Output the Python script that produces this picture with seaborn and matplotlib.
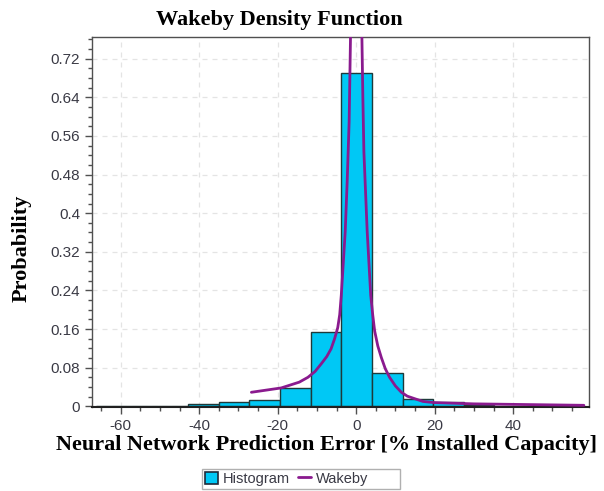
import matplotlib
matplotlib.use("Agg")
import matplotlib.pyplot as plt
import numpy as np
import pandas as pd
import seaborn as sns
from matplotlib.ticker import MultipleLocator, FixedLocator
from matplotlib.patches import Patch, Rectangle
from matplotlib.lines import Line2D

# ---------------- data ----------------
bin_edges = [-66.2, -58.4, -50.6, -42.8, -35.0, -27.2, -19.4, -11.6, -3.8,
             4.0, 11.8, 19.6, 27.4, 35.2, 43.0]
bin_heights = [0.0006, 0.0006, 0.0008, 0.004, 0.008, 0.012, 0.038, 0.154,
               0.690, 0.069, 0.016, 0.009, 0.002, 0.001]

wakeby_x = [-26.7, -19.1, -14.5, -12.3, -10.5, -8.9, -7.5, -6.4, -5.5, -4.7,
            -4.2, -3.8, -2.8, -2.3, -1.8, -1.45, -1.2, 0.0, 1.2, 1.45, 1.7,
            1.96, 2.8, 3.7, 4.2, 4.7, 5.5, 6.4, 7.4, 8.5, 10.0, 11.5, 13.0,
            14.8, 17.0, 19.9, 30.0, 39.4, 58.0]
wakeby_y = [0.029, 0.038, 0.050, 0.060, 0.072, 0.088, 0.103, 0.119, 0.140,
            0.163, 0.190, 0.230, 0.362, 0.465, 0.589, 0.765, 0.900, 2.500,
            0.900, 0.765, 0.637, 0.527, 0.362, 0.230, 0.190, 0.156, 0.125,
            0.101, 0.078, 0.060, 0.042, 0.029, 0.021, 0.016, 0.010, 0.0076,
            0.005, 0.004, 0.002]

x_ticks = [-60, -40, -20, 0, 20, 40]
y_ticks = [0, 0.08, 0.16, 0.24, 0.32, 0.40, 0.48, 0.56, 0.64, 0.72]
y_tick_labels = ["0", "0.08", "0.16", "0.24", "0.32", "0.4", "0.48", "0.56",
                 "0.64", "0.72"]

title_text = "Wakeby Density Function"
x_label = "Neural Network Prediction Error [% Installed Capacity]"
y_label = "Probability"
legend_labels = ["Histogram", "Wakeby"]

# ---------------- styling ----------------
sns.set_style("white")
plt.rcParams["font.family"] = ["Liberation Sans", "DejaVu Sans"]
plt.rcParams["axes.unicode_minus"] = False

bar_color = "#00C8F5"
bar_edge = "#1E3A3A"
line_color = "#8A1A8E"
tick_color = "#3A3A45"
spine_color = "#505050"

fig = plt.figure(figsize=(6.04, 4.91), dpi=100)
ax = fig.add_axes([92 / 604, 1 - 407 / 491, (589 - 92) / 604, (407 - 37) / 491])

edges = np.array(bin_edges)
centers = (edges[:-1] + edges[1:]) / 2
hist_df = pd.DataFrame({"x": centers, "w": bin_heights})
sns.histplot(data=hist_df, x="x", weights="w", bins=bin_edges, stat="count",
             color=bar_color, edgecolor=bar_edge, linewidth=1.0, alpha=1.0,
             ax=ax, zorder=2)

line_df = pd.DataFrame({"x": wakeby_x, "y": wakeby_y})
sns.lineplot(data=line_df, x="x", y="y", color=line_color, linewidth=2.0,
             ax=ax, sort=False, zorder=3)

ax.set_xlim(-67.3, 59.3)
ax.set_ylim(-0.0015, 0.765)

ax.xaxis.set_major_locator(FixedLocator(x_ticks))
ax.xaxis.set_minor_locator(MultipleLocator(5))
ax.set_yticks(y_ticks)
ax.set_yticklabels(y_tick_labels)
ax.yaxis.set_minor_locator(MultipleLocator(0.02))

ax.tick_params(axis="both", which="major", direction="out", length=5,
               width=1, color=spine_color, labelsize=11, labelcolor=tick_color)
ax.tick_params(axis="both", which="minor", direction="out", length=3,
               width=1, color=spine_color)
ax.tick_params(axis="x", which="both", bottom=True)
ax.tick_params(axis="y", which="both", left=True)

ax.set_axisbelow(True)
ax.grid(True, which="major", linestyle=(0, (4, 4)), color="#E4E4E4",
        linewidth=0.9)

for side in ["top", "right", "left"]:
    ax.spines[side].set_color(spine_color)
    ax.spines[side].set_linewidth(1.0)
ax.spines["bottom"].set_color("#202020")
ax.spines["bottom"].set_linewidth(1.5)

ax.set_xlabel("")
ax.set_ylabel("")

serif = ["Liberation Serif", "DejaVu Serif"]
fig.text(279 / 604, 1 - 20 / 491, title_text, ha="center", va="center",
         fontsize=16, fontweight="bold", family=serif, color="#000000")
fig.text(326 / 604, 1 - 445 / 491, x_label, ha="center", va="center",
         fontsize=16, fontweight="bold", family=serif, color="#000000")
fig.text(22 / 604, 1 - 248 / 491, y_label, ha="center", va="center",
         rotation=90, fontsize=16, fontweight="bold", family=serif,
         color="#000000")

# legend frame (wider than its content, as in the reference)
fig.patches.append(Rectangle((202 / 604, 1 - 489 / 491), 198 / 604, 20 / 491,
                             transform=fig.transFigure, facecolor="white",
                             edgecolor="#B0B0B0", linewidth=1.0, zorder=5))

handles = [Patch(facecolor=bar_color, edgecolor="#1E2A3A", linewidth=1.2),
           Line2D([0], [0], color=line_color, linewidth=2.0)]
leg = fig.legend(handles, legend_labels, loc="center left",
                 bbox_to_anchor=(205 / 604, 1 - 479 / 491), ncol=2,
                 fontsize=10.5, frameon=False,
                 handlelength=0.9, handleheight=0.9, handletextpad=0.35,
                 columnspacing=0.5, borderpad=0.0, borderaxespad=0)
leg.set_zorder(6)
for t in leg.get_texts():
    t.set_color(tick_color)

fig.savefig("out.png", dpi=100)
